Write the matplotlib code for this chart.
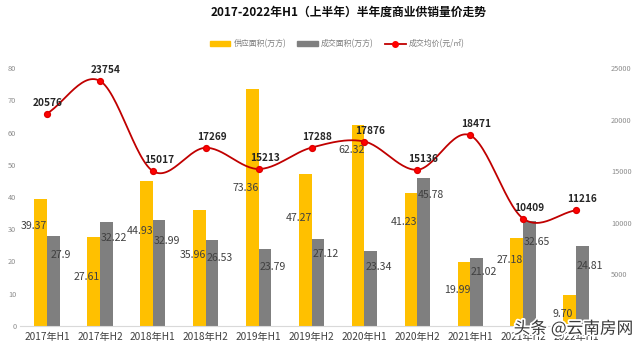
import numpy as np
import matplotlib.pyplot as plt
import matplotlib.patheffects as pe
from matplotlib.patches import Patch
from matplotlib.lines import Line2D

plt.rcParams['font.family'] = ['Noto Sans CJK SC', 'DejaVu Sans']

# half-year supply / deal area (10k m2) and average deal price (yuan/m2)
periods = ["2017年H1", "2017年H2", "2018年H1", "2018年H2", "2019年H1", "2019年H2",
           "2020年H1", "2020年H2", "2021年H1", "2021年H2", "2022年H1"]
supply_area = [39.37, 27.61, 44.93, 35.96, 73.36, 47.27, 62.32, 41.23, 19.99, 27.18, 9.70]
deal_area = [27.9, 32.22, 32.99, 26.53, 23.79, 27.12, 23.34, 45.78, 21.02, 32.65, 24.81]
avg_price = [20576, 23754, 15017, 17269, 15213, 17288, 17876, 15136, 18471, 10409, 11216]

# label offsets below the bar tops (pixels)
supply_dy = [-27, -40, -50, -45, -99, -44, -25, -29, -28, -22, -19]
deal_dy = [-19, -16, -21, -18, -18, -15, -16, -17, -14, -21, -20]

YELLOW = "#FFC000"
GREY = "#7F7F7F"
LINE_RED = "#C00000"
DOT_RED = "#FF0000"


def catmull_rom(x, y, n=30):
    """Smooth curve through the given points (as spreadsheet smoothed lines do)."""
    x = np.asarray(x, float)
    y = np.asarray(y, float)
    px = np.concatenate([[2 * x[0] - x[1]], x, [2 * x[-1] - x[-2]]])
    py = np.concatenate([[2 * y[0] - y[1]], y, [2 * y[-1] - y[-2]]])
    xs, ys = [], []
    t = np.linspace(0, 1, n)
    for i in range(1, len(px) - 2):
        for p, out in ((px, xs), (py, ys)):
            p0, p1, p2, p3 = p[i - 1], p[i], p[i + 1], p[i + 2]
            out.append(0.5 * ((2 * p1) + (-p0 + p2) * t
                              + (2 * p0 - 5 * p1 + 4 * p2 - p3) * t ** 2
                              + (-p0 + 3 * p1 - 3 * p2 + p3) * t ** 3))
    return np.concatenate(xs), np.concatenate(ys)


fig = plt.figure(figsize=(6.4, 3.47), dpi=100)
ax = fig.add_axes([20.5 / 640, 1 - 326 / 347, 582 / 640, 258 / 347])
ax2 = ax.twinx()

x = np.arange(len(periods))
w = 0.24
ax.bar(x - w / 2, supply_area, w, color=YELLOW, zorder=2)
ax.bar(x + w / 2, deal_area, w, color=GREY, zorder=2)

ax.set_xlim(-0.5, len(periods) - 0.5)
ax.set_ylim(0, 80)
ax.set_yticks(range(0, 81, 10))
ax.set_xticks(x)
ax.set_xticklabels(periods, fontsize=7.3, color="#404040")

ax2.set_ylim(0, 25000)
ax2.set_yticks(range(5000, 25001, 5000))

for a in (ax, ax2):
    for s in a.spines.values():
        s.set_visible(False)
    a.tick_params(length=0, labelsize=5.3, labelcolor="#8C8C8C")
ax.spines["bottom"].set_visible(True)
ax.spines["bottom"].set_color("#D9D9D9")
ax.tick_params(axis="x", labelsize=7.3, labelcolor="#404040", pad=4)
ax.tick_params(axis="y", pad=3)
ax2.tick_params(axis="y", pad=6)

# bar value labels
for i in range(len(periods)):
    ax.annotate(f"{supply_area[i]:.2f}", (x[i], supply_area[i]), xytext=(-13, supply_dy[i]),
                textcoords="offset pixels", ha="center", va="center",
                fontsize=7.6, color="#404040", zorder=5)
    ax.annotate(f"{deal_area[i]:g}", (x[i], deal_area[i]), xytext=(14, deal_dy[i]),
                textcoords="offset pixels", ha="center", va="center",
                fontsize=7.6, color="#404040", zorder=5)

# smoothed price line
sx, sy = catmull_rom(x, avg_price)
ax2.plot(sx, sy, color=LINE_RED, lw=1.3, zorder=3)
ax2.plot(x, avg_price, ls="none", marker="o", ms=4.2, color=DOT_RED,
         markeredgecolor="#E00000", zorder=4)
for i, v in enumerate(avg_price):
    dx = 1 if i == 0 else 6
    ax2.annotate(f"{v}", (x[i], v), xytext=(dx, 11), textcoords="offset pixels",
                 ha="center", va="center", fontsize=7.3, fontweight="bold",
                 color="#262626", zorder=5)

fig.text(349 / 640, 1 - 12 / 347, "2017-2022年H1（上半年）半年度商业供销量价走势",
         ha="center", va="center", fontsize=8.5, fontweight="bold", color="#0D0D0D")

handles = [Patch(color=YELLOW), Patch(color=GREY),
           Line2D([], [], color=LINE_RED, lw=1.3, marker="o", ms=4,
                  markerfacecolor=DOT_RED, markeredgecolor=DOT_RED)]
labels = ["供应面积(万方)", "成交面积(万方)", "成交均价(元/㎡)"]
fig.legend(handles, labels, loc="center", bbox_to_anchor=(0.527, 1 - 44 / 347), ncol=3,
           frameon=False, fontsize=5.7, labelcolor="#7F7F7F", handlelength=2.6,
           handleheight=0.5, columnspacing=1.4, handletextpad=0.4)

fig.text(633 / 640, 1 - 329 / 347, "头条 @云南房网", ha="right", va="center",
         fontsize=12, color="#3A3A3A", zorder=10,
         path_effects=[pe.withStroke(linewidth=2.5, foreground="white")])

fig.savefig("out.png", dpi=100)
